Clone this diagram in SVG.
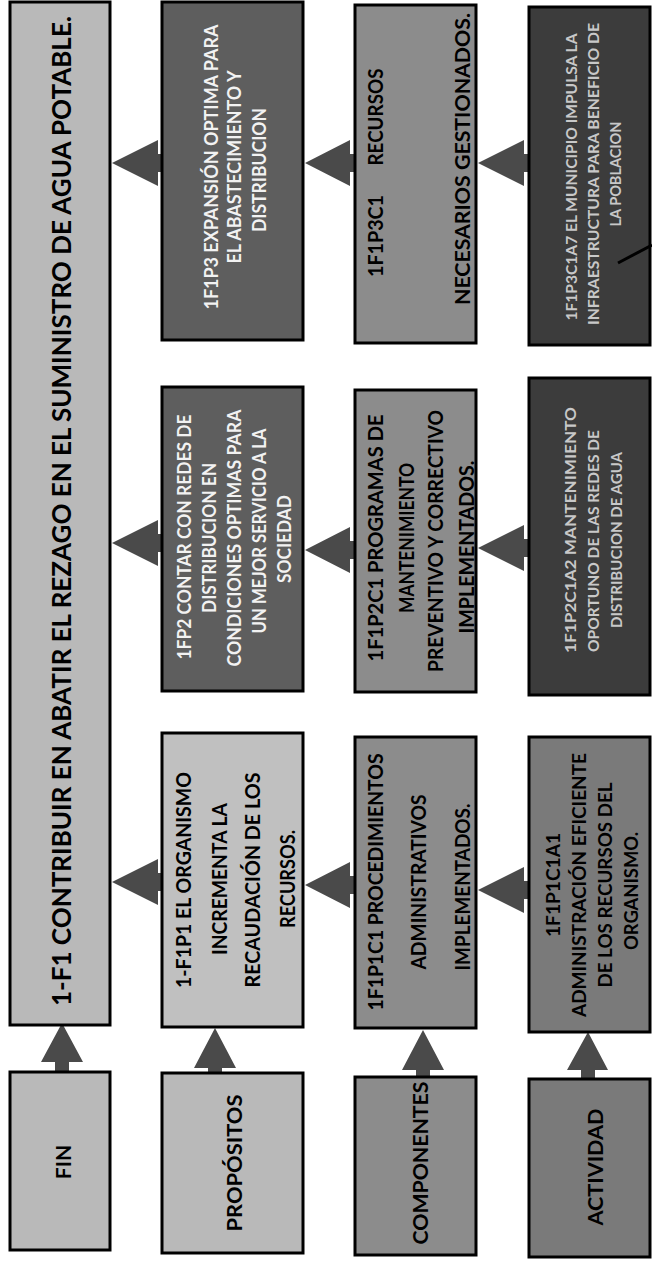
<svg xmlns="http://www.w3.org/2000/svg" width="652" height="1263" viewBox="0 0 652 1263">
<style>
.box{stroke:#000;stroke-width:3}
.l1{fill:#b9b9b9}
.d2{fill:#5e5e5e}
.l2{fill:#c0c0c0}
.m3{fill:#8c8c8c}
.d4{fill:#3c3c3c}
.m4{fill:#7a7a7a}
text{font-family:Lato,"Open Sans","Liberation Sans",sans-serif;font-weight:bold;text-anchor:middle}
.tb{fill:#000}
.tw{fill:#f2f2f2}
.tg{fill:#c8c8c8}
.arr{fill:#4a4a4a}
</style>
<rect width="652" height="1263" fill="#fff"/>
<g id="connectors">
<g id="up-fin"><path class="arr" d="M62,1023 L83,1062 L69,1062 L69,1072 L55,1072 L55,1062 L41,1062 Z"/></g>
<g id="up-prop"><path class="arr" d="M215,1028 L236,1068 L222,1068 L222,1074 L208,1074 L208,1068 L194,1068 Z"/></g>
<g id="up-comp"><path class="arr" d="M423,1030 L444,1070 L430,1070 L430,1078 L416,1078 L416,1070 L402,1070 Z"/></g>
<g id="up-act"><path class="arr" d="M588,1032 L608,1070 L595,1070 L595,1080 L581,1080 L581,1070 L567,1070 Z"/></g>
<path class="arr" d="M112,163 L158,140 L158,154 L163,154 L163,172 L158,172 L158,186 Z"/>
<path class="arr" d="M112,543 L158,520 L158,534 L163,534 L163,552 L158,552 L158,566 Z"/>
<path class="arr" d="M112,882 L158,859 L158,873 L163,873 L163,891 L158,891 L158,905 Z"/>
<path class="arr" d="M305,163 L350,140 L350,154 L356,154 L356,172 L350,172 L350,186 Z"/>
<path class="arr" d="M305,550 L350,527 L350,541 L356,541 L356,559 L350,559 L350,573 Z"/>
<path class="arr" d="M305,885 L350,862 L350,876 L356,876 L356,894 L350,894 L350,908 Z"/>
<path class="arr" d="M478,163 L524,140 L524,154 L530,154 L530,172 L524,172 L524,186 Z"/>
<path class="arr" d="M478,548 L524,525 L524,539 L530,539 L530,557 L524,557 L524,571 Z"/>
<path class="arr" d="M478,890 L524,867 L524,881 L530,881 L530,899 L524,899 L524,913 Z"/>
</g>
<g id="fin-text-node">
<rect class="box l1" x="10" y="2" width="100" height="1023"/>
<text class="tb" font-size="26" textLength="990" lengthAdjust="spacingAndGlyphs" transform="translate(71,511) rotate(-90)">1-F1 CONTRIBUIR EN ABATIR EL REZAGO EN EL SUMINISTRO DE AGUA POTABLE.</text>
</g>
<g id="fin">
<rect class="box l1" x="10" y="1072" width="100" height="178"/>
<text class="tb" font-size="21" transform="translate(71,1162) rotate(-90)">FIN</text>
</g>
<g id="p3">
<rect class="box d2" x="162" y="2" width="141" height="338"/>
<text class="tw" font-size="18" textLength="285" lengthAdjust="spacingAndGlyphs" transform="translate(218,167) rotate(-90)">1F1P3 EXPANSIÓN OPTIMA PARA</text>
<text class="tw" font-size="18" textLength="193" lengthAdjust="spacingAndGlyphs" transform="translate(241,167) rotate(-90)">EL ABASTECIMIENTO Y</text>
<text class="tw" font-size="18" textLength="124" lengthAdjust="spacingAndGlyphs" transform="translate(266,170) rotate(-90)">DISTRIBUCION</text>
</g>
<g id="p2">
<rect class="box d2" x="162" y="387" width="141" height="304"/>
<text class="tw" font-size="18" textLength="245" lengthAdjust="spacingAndGlyphs" transform="translate(191,537) rotate(-90)">1FP2 CONTAR CON REDES DE</text>
<text class="tw" font-size="18" textLength="150" lengthAdjust="spacingAndGlyphs" transform="translate(216,538) rotate(-90)">DISTRIBUCION EN</text>
<text class="tw" font-size="18" textLength="257" lengthAdjust="spacingAndGlyphs" transform="translate(241,538) rotate(-90)">CONDICIONES OPTIMAS PARA</text>
<text class="tw" font-size="18" textLength="205" lengthAdjust="spacingAndGlyphs" transform="translate(266,531) rotate(-90)">UN MEJOR SERVICIO A LA</text>
<text class="tw" font-size="18" textLength="88" lengthAdjust="spacingAndGlyphs" transform="translate(291,539) rotate(-90)">SOCIEDAD</text>
</g>
<g id="p1">
<rect class="box l2" x="162" y="733" width="141" height="294"/>
<text class="tb" font-size="20" textLength="216" lengthAdjust="spacingAndGlyphs" transform="translate(191,880) rotate(-90)">1-F1P1 EL ORGANISMO</text>
<text class="tb" font-size="20" textLength="152" lengthAdjust="spacingAndGlyphs" transform="translate(227,879) rotate(-90)">INCREMENTA LA</text>
<text class="tb" font-size="20" textLength="215" lengthAdjust="spacingAndGlyphs" transform="translate(260,880) rotate(-90)">RECAUDACIÓN  DE LOS</text>
<text class="tb" font-size="20" textLength="98" lengthAdjust="spacingAndGlyphs" transform="translate(295,879) rotate(-90)">RECURSOS.</text>
</g>
<g id="propositos">
<rect class="box l1" x="162" y="1073" width="141" height="180"/>
<text class="tb" font-size="21" textLength="137" lengthAdjust="spacingAndGlyphs" transform="translate(242,1163) rotate(-90)">PROPÓSITOS</text>
</g>
<g id="c3">
<rect class="box m3" x="355" y="5" width="121" height="338"/>
<text class="tb" font-size="20" transform="translate(383,0) rotate(-90)"><tspan x="-236" y="0" textLength="82" lengthAdjust="spacingAndGlyphs">1F1P3C1</tspan><tspan x="-117" y="0" textLength="97" lengthAdjust="spacingAndGlyphs">RECURSOS</tspan></text>
<text class="tb" font-size="20" textLength="292" lengthAdjust="spacingAndGlyphs" transform="translate(470,159) rotate(-90)">NECESARIOS GESTIONADOS.</text>
</g>
<g id="c2">
<rect class="box m3" x="355" y="390" width="121" height="302"/>
<text class="tb" font-size="20" textLength="247" lengthAdjust="spacingAndGlyphs" transform="translate(383,538) rotate(-90)">1F1P2C1  PROGRAMAS DE</text>
<text class="tb" font-size="20" textLength="150" lengthAdjust="spacingAndGlyphs" transform="translate(414,538) rotate(-90)">MANTENIMIENTO</text>
<text class="tb" font-size="20" textLength="262" lengthAdjust="spacingAndGlyphs" transform="translate(443,541) rotate(-90)">PREVENTIVO Y CORRECTIVO</text>
<text class="tb" font-size="20" textLength="173" lengthAdjust="spacingAndGlyphs" transform="translate(474,547) rotate(-90)">IMPLEMENTADOS.</text>
</g>
<g id="c1">
<rect class="box m3" x="355" y="737" width="121" height="291"/>
<text class="tb" font-size="20" textLength="257" lengthAdjust="spacingAndGlyphs" transform="translate(383,882) rotate(-90)">1F1P1C1 PROCEDIMIENTOS</text>
<text class="tb" font-size="20" textLength="175" lengthAdjust="spacingAndGlyphs" transform="translate(426,882) rotate(-90)">ADMINISTRATIVOS</text>
<text class="tb" font-size="20" textLength="167" lengthAdjust="spacingAndGlyphs" transform="translate(470,887) rotate(-90)">IMPLEMENTADOS.</text>
</g>
<g id="componentes">
<rect class="box m3" x="355" y="1077" width="121" height="178"/>
<text class="tb" font-size="21" textLength="163" lengthAdjust="spacingAndGlyphs" transform="translate(428,1163) rotate(-90)">COMPONENTES</text>
</g>
<g id="a3">
<rect class="box d4" x="529" y="7" width="121" height="338"/>
<text class="tg" font-size="16" textLength="287" lengthAdjust="spacingAndGlyphs" transform="translate(577,177) rotate(-90)">1F1P3C1A7 EL MUNICIPIO IMPULSA LA</text>
<text class="tg" font-size="16" textLength="302" lengthAdjust="spacingAndGlyphs" transform="translate(599,174) rotate(-90)">INFRAESTRUCTURA PARA BENEFICIO DE</text>
<text class="tg" font-size="16" textLength="105" lengthAdjust="spacingAndGlyphs" transform="translate(621,174) rotate(-90)">LA POBLACION</text>
<line x1="618" y1="263" x2="652" y2="245" stroke="#000" stroke-width="3"/>
</g>
<g id="a2">
<rect class="box d4" x="529" y="378" width="121" height="317"/>
<text class="tg" font-size="16" textLength="246" lengthAdjust="spacingAndGlyphs" transform="translate(576,530) rotate(-90)">1F1P2C1A2 MANTENIMIENTO</text>
<text class="tg" font-size="16" textLength="222" lengthAdjust="spacingAndGlyphs" transform="translate(599,541) rotate(-90)">OPORTUNO DE LAS REDES DE</text>
<text class="tg" font-size="16" textLength="176" lengthAdjust="spacingAndGlyphs" transform="translate(622,540) rotate(-90)">DISTRIBUCION DE AGUA</text>
</g>
<g id="a1">
<rect class="box m4" x="529" y="737" width="121" height="295"/>
<text class="tb" font-size="19" textLength="104" lengthAdjust="spacingAndGlyphs" transform="translate(560,885) rotate(-90)">1F1P1C1A1</text>
<text class="tb" font-size="19" textLength="264" lengthAdjust="spacingAndGlyphs" transform="translate(586,885) rotate(-90)">ADMINISTRACIÓN EFICIENTE</text>
<text class="tb" font-size="19" textLength="205" lengthAdjust="spacingAndGlyphs" transform="translate(612,885) rotate(-90)">DE LOS RECURSOS DEL</text>
<text class="tb" font-size="19" textLength="118" lengthAdjust="spacingAndGlyphs" transform="translate(638,891) rotate(-90)">ORGANISMO.</text>
</g>
<g id="actividad">
<rect class="box m4" x="529" y="1079" width="121" height="178"/>
<text class="tb" font-size="21" textLength="117" lengthAdjust="spacingAndGlyphs" transform="translate(603,1167) rotate(-90)">ACTIVIDAD</text>
</g>
</svg>
